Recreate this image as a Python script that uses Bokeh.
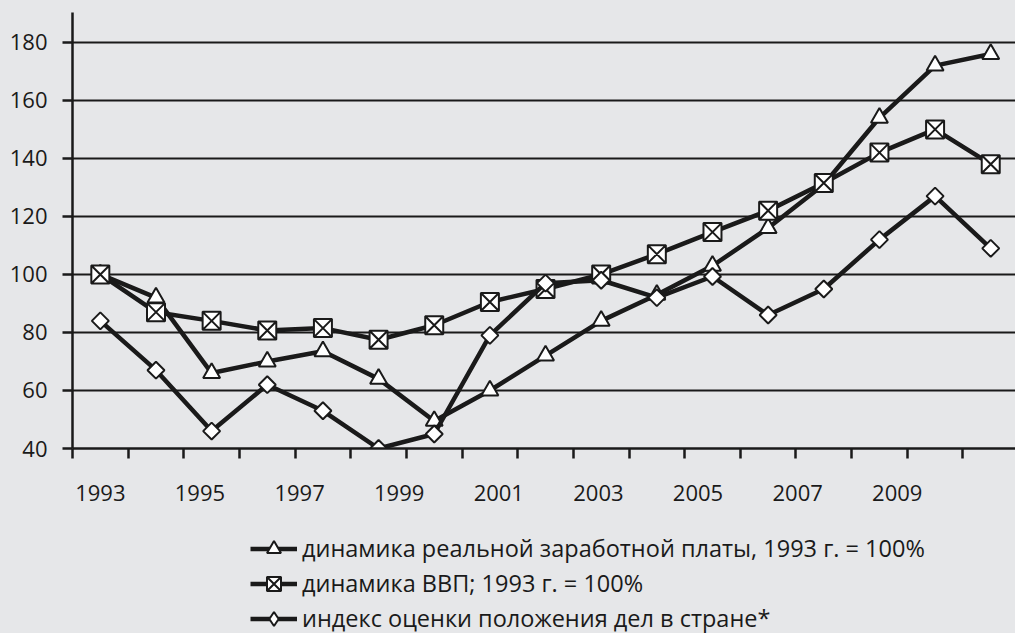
import math
from bokeh.plotting import figure
from bokeh.layouts import column
from bokeh.models import Range1d, FixedTicker, Legend, LegendItem
from bokeh.embed import file_html
from bokeh.resources import INLINE

# ---- data ----
years = [1993, 1994, 1995, 1996, 1997, 1998, 1999, 2000, 2001,
         2002, 2003, 2004, 2005, 2006, 2007, 2008, 2009]
wage = [100, 92, 66, 70, 73.5, 64, 49.5, 60, 72, 84, 93, 103, 116, 131, 154, 172, 176]
gdp = [100, 87, 84, 80.7, 81.5, 77.5, 82.5, 90.5, 95, 100, 107, 114.6, 122, 131.5, 142, 150, 138]
index = [84, 67, 46, 62, 53, 40, 45, 79, 97, 98, 92, 99.3, 86, 95, 112, 127, 109]
tick_labels = ["1993", "1995", "1997", "1999", "2001", "2003", "2005", "2007", "2009"]
y_ticks = [40, 60, 80, 100, 120, 140, 160, 180]
names = ["динамика реальной заработной платы, 1993 г. = 100%",
         "динамика ВВП; 1993 г. = 100%",
         "индекс оценки положения дел в стране*"]

# ---- styling / layout ----
BG = "#e6e7e9"
INK = "#1a1a1a"
FONT = "Open Sans"
FS = "22px"
LEG_FS = "23.5px"
LABEL_STEP = 1.79   # the reference spaces its year labels 1.79 categories apart
LW = 4.5

xs = list(range(len(years)))
series = [wage, gdp, index]

p = figure(width=1015, height=520, output_backend="svg", toolbar_location=None,
           x_range=Range1d(-0.5, 16.445), y_range=Range1d(40, 190.3),
           min_border_left=72, min_border_right=0, min_border_top=12,
           min_border_bottom=72)
p.background_fill_color = BG
p.border_fill_color = BG
p.outline_line_color = None

# y axis
p.yaxis.ticker = FixedTicker(ticks=y_ticks)
p.yaxis.axis_line_color = INK
p.yaxis.axis_line_width = 2.5
p.yaxis.major_tick_line_color = INK
p.yaxis.major_tick_line_width = 2.5
p.yaxis.major_tick_out = 10
p.yaxis.major_tick_in = 0
p.yaxis.minor_tick_line_color = None
p.yaxis.major_label_standoff = 15
p.yaxis.major_label_text_font = FONT
p.yaxis.major_label_text_font_size = FS
p.yaxis.major_label_text_color = INK

# x axis: minor ticks mark category boundaries, major (hidden) ticks carry the labels
label_pos = [i * LABEL_STEP for i in range(len(tick_labels))]
bounds = [i - 0.5 for i in range(len(years) + 1)]
p.xaxis.ticker = FixedTicker(ticks=label_pos, minor_ticks=bounds)
p.xaxis.major_label_overrides = {pos: lab for pos, lab in zip(label_pos, tick_labels)}
p.xaxis.axis_line_color = INK
p.xaxis.axis_line_width = 2.5
p.xaxis.major_tick_line_color = None
p.xaxis.major_tick_out = 10
p.xaxis.major_tick_in = 0
p.xaxis.minor_tick_line_color = INK
p.xaxis.minor_tick_line_width = 2.5
p.xaxis.minor_tick_out = 10
p.xaxis.minor_tick_in = 0
p.xaxis.major_label_standoff = 26
p.xaxis.major_label_text_font = FONT
p.xaxis.major_label_text_font_size = FS
p.xaxis.major_label_text_color = INK

p.xgrid.grid_line_color = None
p.ygrid.ticker = FixedTicker(ticks=y_ticks)
p.ygrid.grid_line_color = INK
p.ygrid.grid_line_width = 2.2

# series: triangles, squares with X, diamonds (drawn in this order)
marker_styles = [dict(marker="triangle", size=17),
                 dict(marker="square_x", size=18),
                 dict(marker="square", size=12, angle=math.pi / 4)]
for vals, ms in zip(series, marker_styles):
    p.line(xs, vals, line_color=INK, line_width=LW)
    p.scatter(xs, vals, fill_color="white", line_color=INK, line_width=2, **ms)

# ---- legend strip below the chart (its glyphs carry the same data, out of view) ----
q = figure(width=1015, height=113, output_backend="svg", toolbar_location=None,
           x_range=Range1d(0, 1), y_range=Range1d(0, 1),
           x_axis_type=None, y_axis_type=None,
           min_border_left=0, min_border_right=0, min_border_top=0, min_border_bottom=0)
q.background_fill_color = BG
q.border_fill_color = BG
q.outline_line_color = None
q.xgrid.visible = False
q.ygrid.visible = False

legend_markers = ["triangle", "square_x", "diamond"]   # legend glyphs ignore angles
items = []
for name, vals, mk_name in zip(names, series, legend_markers):
    ln = q.line(xs, vals, line_color=INK, line_width=LW)
    mk = q.scatter(xs, vals, marker=mk_name, size=12, fill_color="white",
                   line_color=INK, line_width=2)
    items.append(LegendItem(label=name, renderers=[ln, mk]))

legend = Legend(items=items, location=(178, -2.5), orientation="vertical",
                glyph_width=47, glyph_height=35, label_height=35, spacing=0,
                label_standoff=5, padding=0, margin=0,
                border_line_color=None, background_fill_alpha=0,
                label_text_font=FONT, label_text_font_size=LEG_FS,
                label_text_color=INK)
q.add_layout(legend, "center")

page = column(p, q, spacing=0)

TEMPLATE = """{% block preamble %}<style>html, body { margin: 0; padding: 0; background-color: #e6e7e9; }</style>{% endblock %}"""
open("out.html", "w").write(file_html(page, INLINE, title="chart", template=TEMPLATE))
